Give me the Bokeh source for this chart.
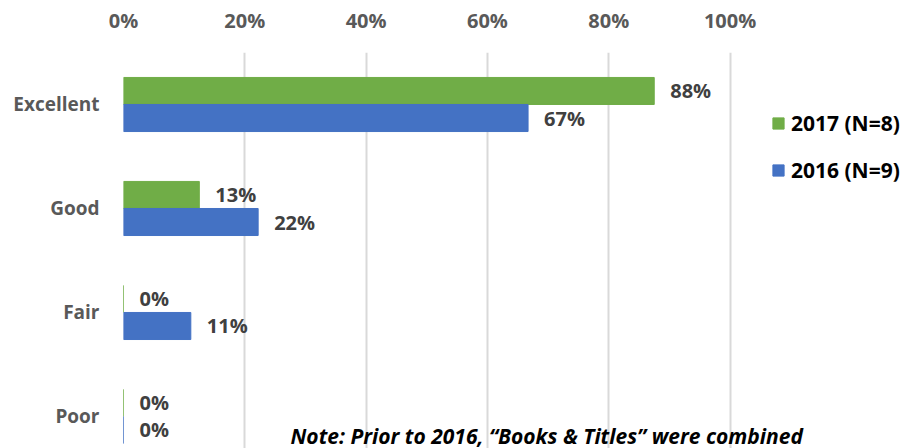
from bokeh.plotting import figure
from bokeh.models import Range1d, FixedTicker, Legend, LegendItem, Label, ColumnDataSource
from bokeh.core.properties import value
from bokeh.embed import file_html
from bokeh.resources import INLINE

# ---- data ----
categories = ["Excellent", "Good", "Fair", "Poor"]
series_names = ["2017 (N=8)", "2016 (N=9)"]
values_2017 = [87.5, 12.5, 0.0, 0.0]
values_2016 = [66.7, 22.2, 11.1, 0.0]
labels_2017 = ["88%", "13%", "0%", "0%"]
labels_2016 = ["67%", "22%", "11%", "0%"]
x_ticks = [0, 20, 40, 60, 80, 100]
x_tick_labels = ["0%", "20%", "40%", "60%", "80%", "100%"]
note_text = "Note: Prior to 2016, \u201cBooks & Titles\u201d were combined"

GREEN = "#70AD47"
BLUE = "#4472C4"
FONT = "Open Sans"

n = len(categories)
pos = [n - i for i in range(n)]
off = 0.13
src17 = ColumnDataSource(dict(y=[p_ + off for p_ in pos], v=values_2017, lab=labels_2017))
src16 = ColumnDataSource(dict(y=[p_ - off for p_ in pos], v=values_2016, lab=labels_2016))

p = figure(width=900, height=448, output_backend="svg", toolbar_location=None,
           x_range=Range1d(0, 128.1), y_range=Range1d(0.692, 4.5),
           x_axis_location="above", min_border_left=123, min_border_top=52,
           min_border_right=0, min_border_bottom=0)
p.outline_line_color = None
p.background_fill_color = "white"
p.border_fill_color = "white"

r17 = p.hbar(y="y", right="v", left=0, height=0.26, color=GREEN, source=src17)
r16 = p.hbar(y="y", right="v", left=0, height=0.26, color=BLUE, source=src16)

for src in (src17, src16):
    p.text(x="v", y="y", text="lab", source=src, x_offset=16,
           text_baseline="middle", text_align="left",
           text_font=value(FONT), text_font_style="bold",
           text_font_size="20px", text_color="#404040")

# x axis (top)
xa = p.xaxis[0]
xa.ticker = FixedTicker(ticks=x_ticks)
xa.major_label_overrides = {t: l for t, l in zip(x_ticks, x_tick_labels)}
xa.axis_line_color = None
xa.major_tick_line_color = None
xa.minor_tick_line_color = None
xa.major_tick_out = 0
xa.major_label_standoff = 19
xa.major_label_text_font = FONT
xa.major_label_text_font_style = "bold"
xa.major_label_text_font_size = "20px"
xa.major_label_text_color = "#595959"

# y axis (left)
ya = p.yaxis[0]
ya.ticker = FixedTicker(ticks=pos)
ya.major_label_overrides = {t: c for t, c in zip(pos, categories)}
ya.axis_line_color = None
ya.major_tick_line_color = None
ya.minor_tick_line_color = None
ya.major_tick_out = 0
ya.major_label_standoff = 24
ya.major_label_text_font = FONT
ya.major_label_text_font_style = "bold"
ya.major_label_text_font_size = "19px"
ya.major_label_text_color = "#595959"

p.xgrid.ticker = FixedTicker(ticks=x_ticks)
p.xgrid.grid_line_color = "#D9D9D9"
p.xgrid.grid_line_width = 2
p.ygrid.grid_line_color = None

legend = Legend(items=[LegendItem(label=series_names[0], renderers=[r17]),
                       LegendItem(label=series_names[1], renderers=[r16])],
                location=(648, 264), orientation="vertical")
legend.glyph_width = 14
legend.glyph_height = 14
legend.label_standoff = 6
legend.label_height = 14
legend.spacing = 19
legend.padding = 0
legend.margin = 0
legend.border_line_color = None
legend.background_fill_alpha = 0
legend.label_text_font = FONT
legend.label_text_font_style = "bold"
legend.label_text_font_size = "21px"
legend.label_text_color = "#000000"
p.add_layout(legend, "center")

note = Label(x=167, y=13, x_units="screen", y_units="screen", text=note_text,
             text_font=FONT, text_font_style="bold italic", text_font_size="21px",
             text_color="#000000", text_baseline="middle", text_align="left")
p.add_layout(note)

open("out.html", "w").write(file_html(p, INLINE))
